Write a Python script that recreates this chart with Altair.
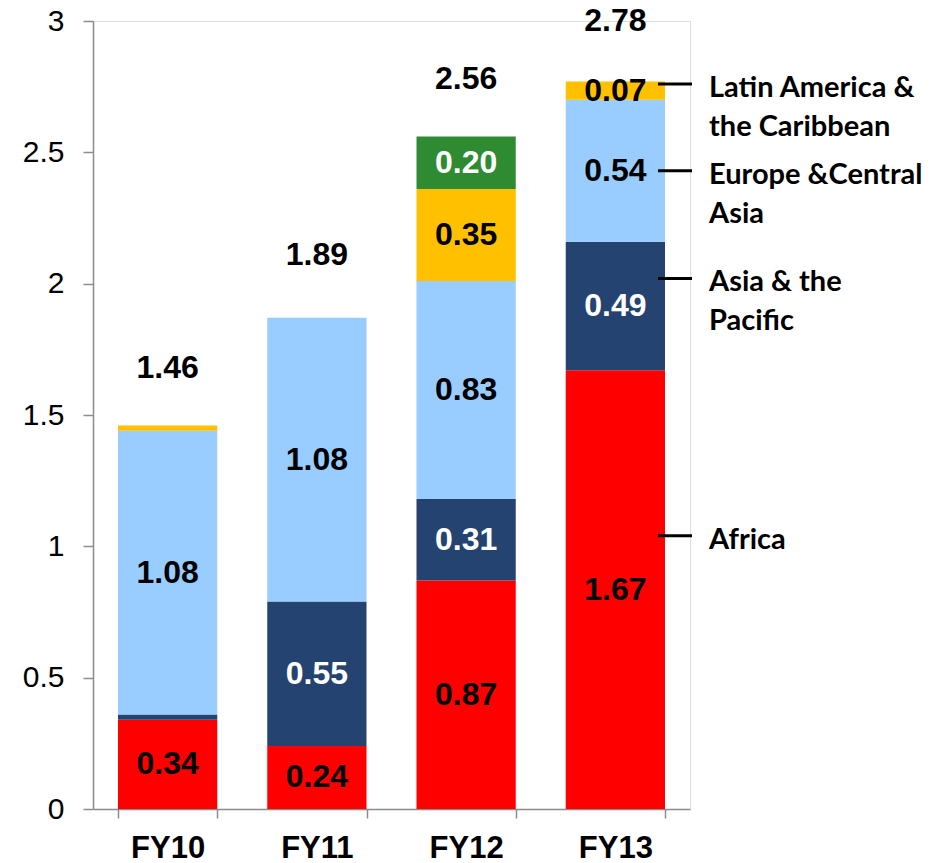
import altair as alt
import pandas as pd

# ---- data ----
years = ["FY10", "FY11", "FY12", "FY13"]
regions = [
    "Africa",
    "Asia & the Pacific",
    "Europe & Central Asia",
    "Latin America & the Caribbean",
    "Middle East & North Africa",
]
africa = [0.34, 0.24, 0.87, 1.67]
asia_pacific = [0.02, 0.55, 0.31, 0.49]
europe_central_asia = [1.08, 1.08, 0.83, 0.54]
latin_america = [0.02, 0.00, 0.35, 0.07]
middle_east = [0.00, 0.00, 0.20, 0.00]
totals = [1.46, 1.89, 2.56, 2.78]

colors = ["#FF0000", "#244371", "#99CCFF", "#FFC000", "#2F8B32"]
label_colors = ["black", "white", "black", "black", "white"]

# right-hand annotation labels (line 1, line 2) and their anchor on the value axis
annot_line1 = ["Latin America &", "Europe &Central", "Asia & the", "Africa"]
annot_line2 = ["the Caribbean", "Asia", "Pacific", ""]
annot_anchor = [2.76, 2.43, 2.02, 1.04]

# ---- build tables ----
series = [africa, asia_pacific, europe_central_asia, latin_america, middle_east]
rows = []
for i, yr in enumerate(years):
    base = 0.0
    for r, vals in enumerate(series):
        v = vals[i]
        rows.append(
            {
                "year": yr,
                "region": regions[r],
                "order": r,
                "value": v,
                "start": base,
                "end": base + v,
                "mid": base + v / 2,
                "label": f"{v:.2f}",
                "lcolor": label_colors[r],
            }
        )
        base += v
df = pd.DataFrame(rows)
df_bars = df[df["value"] > 0]
df_labels = df[df["value"] >= 0.05]

df_tot = pd.DataFrame({"year": years, "total": totals, "label": [f"{t:.2f}" for t in totals]})
df_ann = pd.DataFrame({"l1": annot_line1, "l2": annot_line2, "y": annot_anchor})

W, H = 597, 788
FONT = "Liberation Sans"

x_enc = alt.X(
    "year:N",
    sort=years,
    scale=alt.Scale(paddingInner=0.335, paddingOuter=0.1675),
    axis=alt.Axis(
        title=None,
        labelAngle=0,
        labelFont=FONT,
        labelFontSize=31,
        labelFontWeight="bold",
        labelColor="black",
        labelPadding=15,
        tickBand="extent",
        tickSize=9,
        tickColor="#8c8c8c",
        tickWidth=1.5,
        domainColor="#8c8c8c",
        domainWidth=1.5,
    ),
)
y_scale = alt.Scale(domain=[0, 3], nice=False)

bars = (
    alt.Chart(df_bars)
    .mark_bar()
    .encode(
        x=x_enc,
        y=alt.Y(
            "start:Q",
            scale=y_scale,
            axis=alt.Axis(
                title=None,
                values=[0, 0.5, 1, 1.5, 2, 2.5, 3],
                format="~g",
                labelFont=FONT,
                labelFontSize=30,
                labelColor="black",
                labelPadding=19,
                tickSize=10,
                tickColor="#8c8c8c",
                tickWidth=1.5,
                domainColor="#8c8c8c",
                domainWidth=1.5,
                grid=False,
                labelFlush=False,
            ),
        ),
        y2="end:Q",
        color=alt.Color("region:N", scale=alt.Scale(domain=regions, range=colors), legend=None),
    )
)

seg_labels = (
    alt.Chart(df_labels)
    .mark_text(font=FONT, fontSize=32, fontWeight="bold", baseline="middle")
    .encode(
        x=alt.X("year:N", sort=years),
        y=alt.Y("mid:Q", scale=y_scale),
        text="label:N",
        color=alt.Color("lcolor:N", scale=None),
    )
)

tot_labels = (
    alt.Chart(df_tot)
    .mark_text(font=FONT, fontSize=32, fontWeight="bold", baseline="middle", dy=-58, color="black")
    .encode(
        x=alt.X("year:N", sort=years),
        y=alt.Y("total:Q", scale=y_scale),
        text="label:N",
    )
)

ann_lines = (
    alt.Chart(df_ann)
    .mark_rule(color="black", strokeWidth=3)
    .encode(
        x=alt.value(565),
        x2=alt.value(599),
        y=alt.Y("y:Q", scale=y_scale),
    )
)

ann_text1 = (
    alt.Chart(df_ann)
    .mark_text(font="Lato", fontSize=29, fontWeight="bold", align="left", baseline="middle", dy=4, color="black")
    .encode(x=alt.value(616), y=alt.Y("y:Q", scale=y_scale), text="l1:N")
)
ann_text2 = (
    alt.Chart(df_ann)
    .mark_text(font="Lato", fontSize=29, fontWeight="bold", align="left", baseline="middle", dy=43, color="black")
    .encode(x=alt.value(616), y=alt.Y("y:Q", scale=y_scale), text="l2:N")
)

chart = (
    alt.layer(bars, seg_labels, tot_labels, ann_lines, ann_text1, ann_text2)
    .properties(
        width=W,
        height=H,
        autosize=alt.AutoSizeParams(type="none"),
        padding={"left": 93, "top": 21, "right": 933 - 93 - W, "bottom": 863 - 21 - H},
    )
    .configure_view(stroke=None)
    .configure(background="white")
)

chart.save("out.html", embed_options={"renderer": "svg", "actions": False})
